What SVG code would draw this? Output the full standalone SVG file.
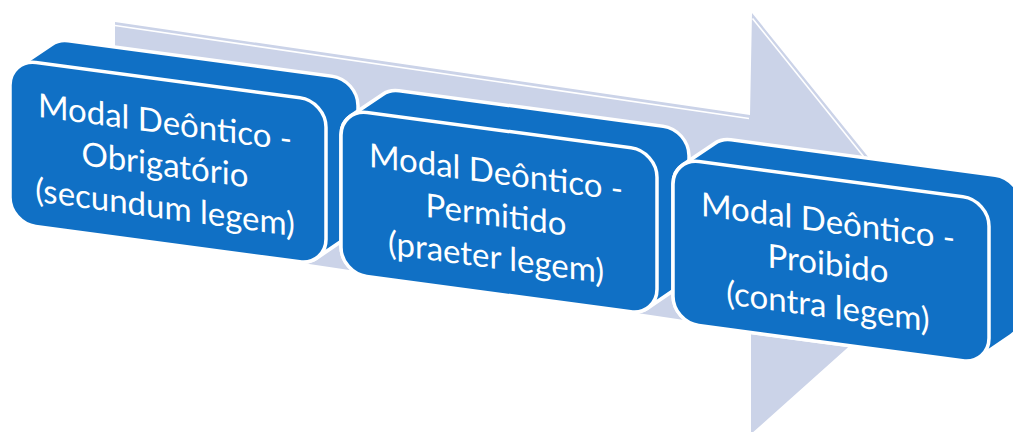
<svg xmlns="http://www.w3.org/2000/svg" width="1013" height="432" viewBox="0 0 1013 432">
  <style>
    .arrowfill { fill: #CBD3E8; }
    .edge { fill: none; stroke: #FFFFFF; stroke-width: 1.6; }
    .sil-out { fill: #FFFFFF; stroke: #FFFFFF; stroke-width: 55.5; stroke-linejoin: round; }
    .sil-in { fill: #1070C5; stroke: #1070C5; stroke-width: 48.5; stroke-linejoin: round; }
    .face { fill: #1070C5; stroke: #FFFFFF; stroke-width: 3.5; }
    .lbl { font-family: Lato, "Liberation Sans", sans-serif; font-size: 33px; fill: #FFFFFF; text-anchor: middle; }
  </style>
  <defs>
    <polygon id="solid" points="26,26 58,0 322,0 322,112 290,138 26,138"/>
  </defs>
  <rect width="1013" height="432" fill="#FFFFFF"/>

  <g id="background-arrow">
    <polygon class="arrowfill" points="115,22 750,115 752,13 949,257 751,434 751,330 115,235"/>
    <polyline class="edge" points="115,25.5 749,118.5"/>
    <polyline class="edge" points="752.5,18.5 897,198"/>
  </g>

  <g id="box1" transform="translate(10,59) skewY(7.63)">
    <use href="#solid" class="sil-out"/>
    <use href="#solid" class="sil-in"/>
    <rect class="face" x="0" y="0" width="316" height="164" rx="26" ry="26"/>
    <text class="lbl" x="155" y="54">Modal Deôntico -</text>
    <text class="lbl" x="155" y="96.5">Obrigatório</text>
    <text class="lbl" x="155" y="139">(secundum legem)</text>
  </g>

  <g id="box2" transform="translate(341,109) skewY(7.63)">
    <use href="#solid" class="sil-out"/>
    <use href="#solid" class="sil-in"/>
    <rect class="face" x="0" y="0" width="316" height="164" rx="26" ry="26"/>
    <text class="lbl" x="155" y="54">Modal Deôntico -</text>
    <text class="lbl" x="155" y="96.5">Permitido</text>
    <text class="lbl" x="155" y="139">(praeter legem)</text>
  </g>

  <g id="box3" transform="translate(673,158) skewY(7.63)">
    <use href="#solid" class="sil-out"/>
    <use href="#solid" class="sil-in"/>
    <rect class="face" x="0" y="0" width="316" height="164" rx="26" ry="26"/>
    <text class="lbl" x="155" y="54">Modal Deôntico -</text>
    <text class="lbl" x="155" y="96.5">Proibido</text>
    <text class="lbl" x="155" y="139">(contra legem)</text>
  </g>
</svg>
